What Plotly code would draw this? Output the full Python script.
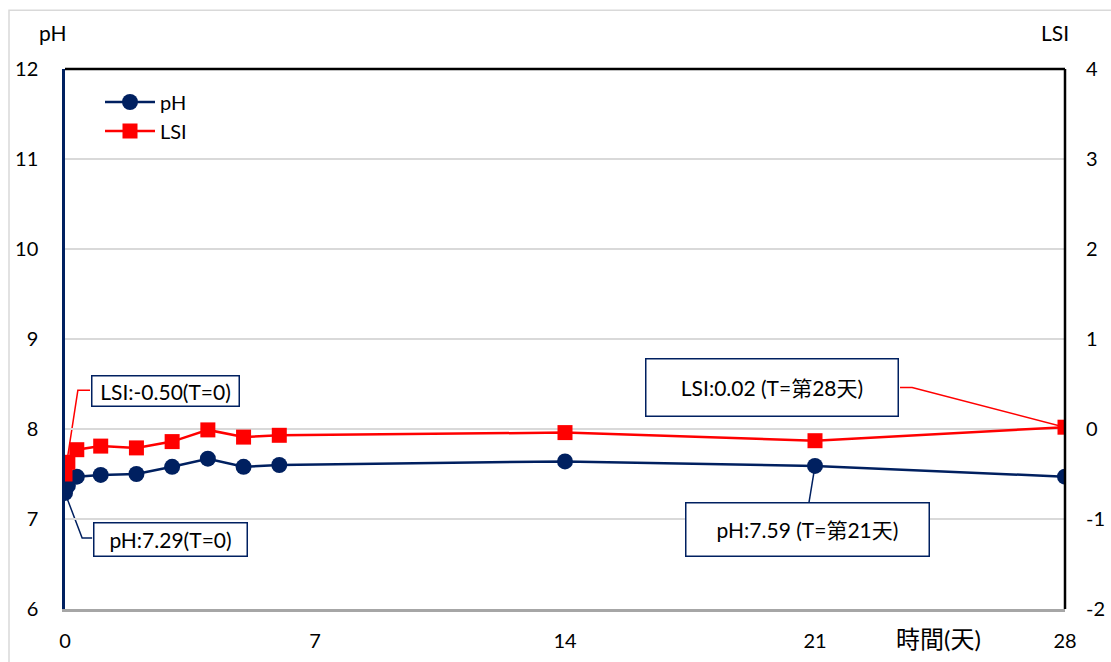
import plotly.graph_objects as go

# Sampling times (days) and measured values
days = [0, 0.08, 0.33, 1, 2, 3, 4, 5, 6, 14, 21, 28]
ph_values = [7.29, 7.37, 7.47, 7.49, 7.50, 7.58, 7.67, 7.58, 7.60, 7.64, 7.59, 7.47]
lsi_values = [-0.50, -0.37, -0.23, -0.19, -0.21, -0.14, -0.01, -0.09, -0.07, -0.04, -0.13, 0.02]

x_ticks = [0, 7, 14, 21, 28]
ph_ticks = [6, 7, 8, 9, 10, 11, 12]
lsi_ticks = [-2, -1, 0, 1, 2, 3, 4]
lsi_tick_text = ["-2", "-1", "0", "1", "2", "3", "4"]

NAVY = "#002060"
RED = "#ff0000"
FONT = "Lato, 'Noto Sans CJK TC', sans-serif"

fig = go.Figure()

fig.add_trace(go.Scatter(
    x=days, y=ph_values, name="pH", mode="lines+markers",
    line=dict(color=NAVY, width=2.5),
    marker=dict(symbol="circle", size=16, color=NAVY),
    yaxis="y",
))
fig.add_trace(go.Scatter(
    x=days, y=lsi_values, name="LSI", mode="lines+markers",
    line=dict(color=RED, width=2.5),
    marker=dict(symbol="square", size=15, color=RED),
    yaxis="y2",
))

# Callout boxes: (text, x, y, yref, width, height)
callouts = [
    ("LSI:-0.50(T=0)", 2.8, 0.42, "y2", 146, 29),
    ("pH:7.29(T=0)", 2.94, 6.77, "y", 152, 32),
    ("LSI:0.02 (T=第28天)", 19.8, 0.46, "y2", 251, 56),
    ("pH:7.59 (T=第21天)", 20.8, 6.88, "y", 242, 52),
]
annotations = []
for text, ax_, ay_, yref, w, h in callouts:
    annotations.append(dict(
        text=text, x=ax_, y=ay_, xref="x", yref=yref, showarrow=False,
        width=w, height=h, borderpad=0, bgcolor="white",
        bordercolor=NAVY, borderwidth=1.5,
        font=dict(family=FONT, size=21, color="black"),
        xanchor="center", yanchor="middle",
    ))

# Leader lines from callout boxes to the labelled points
i28 = days.index(28)
i21 = days.index(21)
shapes = [
    dict(type="path", xref="x", yref="y2", layer="below",
         path=f"M 0.70,0.43 L 0.36,0.43 L {days[0]},{lsi_values[0]}",
         line=dict(color=RED, width=1.5)),
    dict(type="path", xref="x", yref="y", layer="below",
         path=f"M {days[0]},{ph_values[0]} L 0.48,6.79 L 0.76,6.79",
         line=dict(color=NAVY, width=1.5)),
    dict(type="path", xref="x", yref="y2", layer="below",
         path=f"M 23.38,0.46 L 23.72,0.46 L {days[i28]},{lsi_values[i28]}",
         line=dict(color=RED, width=1.5)),
    dict(type="path", xref="x", yref="y", layer="below",
         path=f"M {days[i21]},{ph_values[i21]} L 20.83,7.18",
         line=dict(color=NAVY, width=1.5)),
    # outer chart frame
    dict(type="rect", xref="paper", yref="paper",
         x0=-0.056, x1=1.2, y0=-0.2, y1=1.109,
         line=dict(color="#d9d9d9", width=1.5), layer="below"),
    # top and right frame of the plot area
    dict(type="line", xref="paper", yref="paper", x0=0, x1=1, y0=1, y1=1,
         line=dict(color="black", width=2.5)),
    dict(type="line", xref="paper", yref="paper", x0=1, x1=1, y0=0, y1=1,
         line=dict(color="black", width=2.5)),
]

# Axis titles
annotations += [
    dict(text="pH", xref="paper", yref="paper", x=-0.012, y=1.04,
         showarrow=False, font=dict(family=FONT, size=21, color="black"),
         xanchor="center", yanchor="bottom"),
    dict(text="LSI", xref="paper", yref="paper", x=0.99, y=1.04,
         showarrow=False, font=dict(family=FONT, size=21, color="black"),
         xanchor="center", yanchor="bottom"),
    dict(text="時間(天)", xref="paper", yref="paper", x=0.873, y=-0.055,
         showarrow=False, font=dict(family=FONT, size=24, color="black"),
         xanchor="center", yanchor="middle"),
]

fig.update_layout(
    width=1111, height=662,
    margin=dict(l=65, r=46, t=69, b=53),
    paper_bgcolor="white", plot_bgcolor="white",
    font=dict(family=FONT, size=20, color="black"),
    showlegend=True,
    legend=dict(x=0.035, y=0.975, xanchor="left", yanchor="top",
                bgcolor="rgba(0,0,0,0)", font=dict(size=20),
                tracegroupgap=8, itemwidth=50),
    xaxis=dict(range=[0, 28], tickvals=x_ticks, showgrid=False,
               showline=True, linecolor="#a6a6a6", linewidth=3,
               zeroline=False, ticks="", ticklabelstandoff=12,
               tickfont=dict(size=20), automargin=False),
    yaxis=dict(range=[6, 12], tickvals=ph_ticks, showgrid=True,
               gridcolor="#d9d9d9", gridwidth=1.5, zeroline=False,
               showline=True, linecolor=NAVY, linewidth=2.5,
               ticks="", ticklabelstandoff=20, tickfont=dict(size=20),
               automargin=False),
    yaxis2=dict(range=[-2, 4], tickvals=lsi_ticks, ticktext=lsi_tick_text,
                overlaying="y", side="right", showgrid=False,
                zeroline=False, showline=False, ticks="",
                ticklabelstandoff=20, tickfont=dict(size=20),
                automargin=False),
    shapes=shapes,
    annotations=annotations,
)

fig.write_html("out.html")
